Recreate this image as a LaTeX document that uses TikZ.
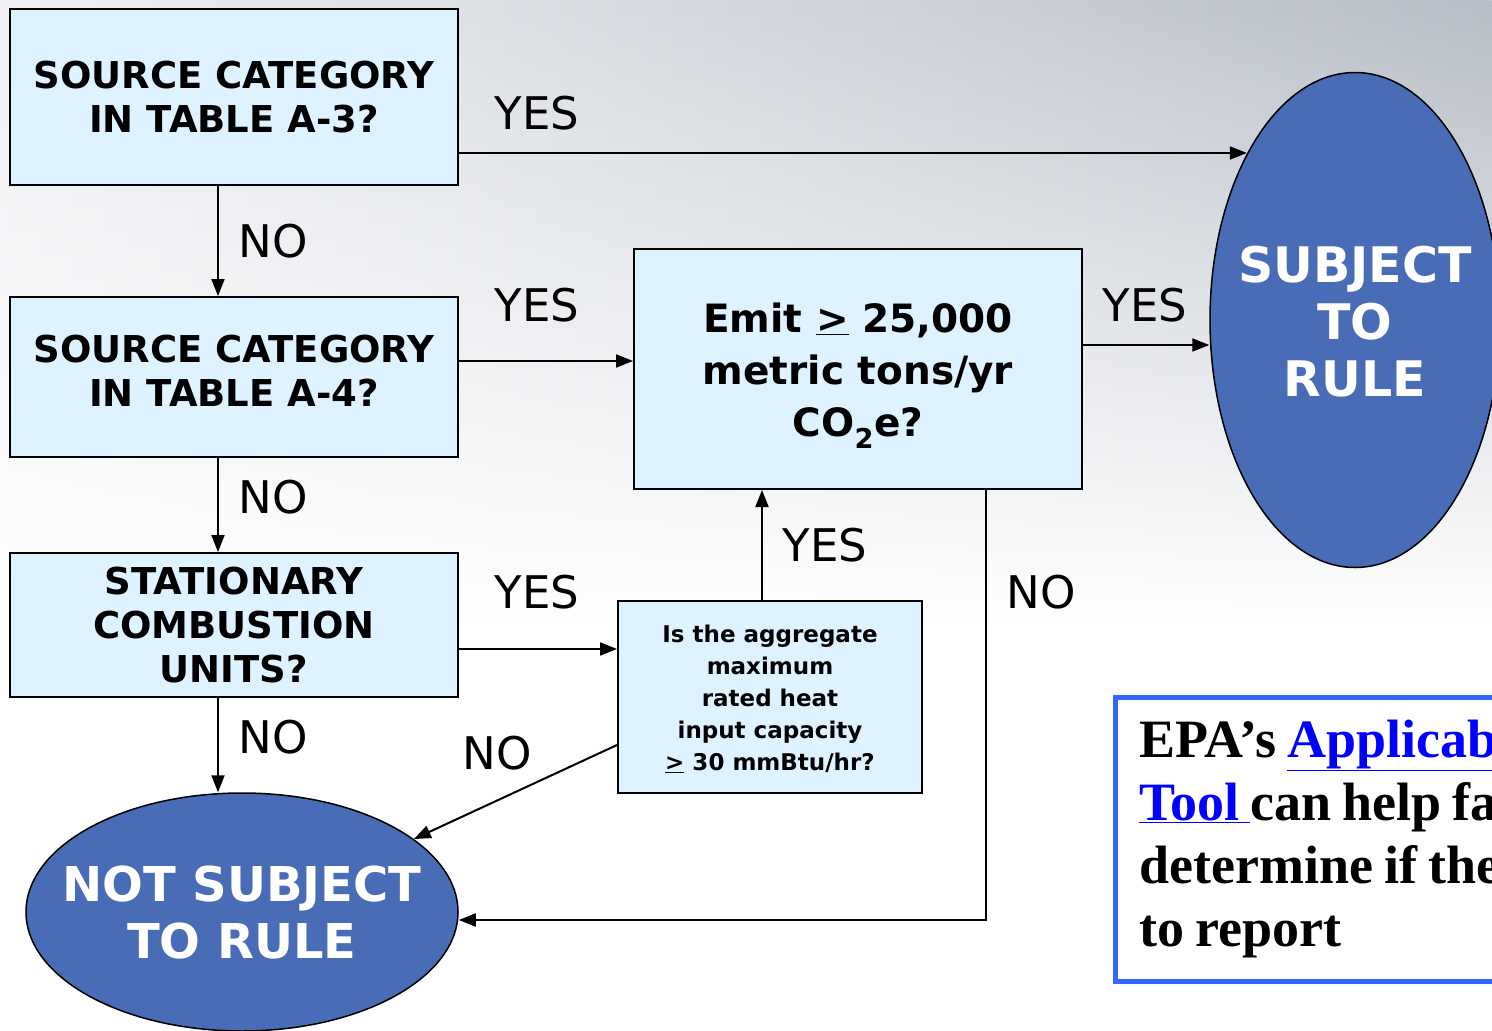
\documentclass[tikz,border=0pt]{standalone}
\usepackage{fontspec}
\setsansfont{DejaVu Sans}
\newfontfamily\tnr{Liberation Serif}
\usetikzlibrary{arrows.meta,fadings,shapes.geometric}

\definecolor{boxblue}{RGB}{223,242,255}
\definecolor{ovalblue}{RGB}{72,108,181}
\definecolor{frameblue}{RGB}{51,102,255}
\definecolor{linkblue}{RGB}{0,0,255}
\definecolor{bggray}{RGB}{184,190,199}
\definecolor{bglight}{RGB}{238,240,243}

\begin{document}
\begin{tikzpicture}[x=1pt,y=-1pt,
	qbox/.style={draw,line width=2pt,fill=boxblue,inner sep=0pt},
	qtext/.style 2 args={align=center,inner sep=0pt,font=\sffamily\bfseries\fontsize{#1}{#2}\selectfont},
	oval/.style={ellipse,draw,line width=1.5pt,fill=ovalblue,inner sep=0pt},
	ovaltext/.style={text=white,qtext={49}{57}},
	arr/.style={line width=2pt,-{Triangle[length=17pt,width=13pt]}},
	lbl/.style={inner sep=0pt,font=\sffamily\fontsize{45}{45}\selectfont}]
		
		%background
		\clip (0,0) rectangle (1492,1031);
		\fill[white] (0,0) rectangle (1492,1031);
		\shade[left color=bglight,right color=bggray,path fading=south] (0,0) rectangle (1492,620);
		
		%questions
		\node[qbox,minimum width=448,minimum height=176,label={[qtext={37}{44}]center:SOURCE CATEGORY\\IN TABLE A-3?}] (a3) at (234,97) {};
		\node[qbox,minimum width=448,minimum height=160,label={[qtext={37}{44},yshift=6pt]center:SOURCE CATEGORY\\IN TABLE A-4?}] (a4) at (234,377) {};
		\node[qbox,minimum width=448,minimum height=144,label={[qtext={37}{44}]center:STATIONARY\\COMBUSTION\\UNITS?}] (sc) at (234,625) {};
		\node[qbox,minimum width=448,minimum height=240,label={[qtext={39}{52},yshift=-7pt]center:Emit \underline{>} 25,000\\metric tons/yr\\CO\textsubscript{2}e?}] (emit) at (858,369) {};
		\node[qbox,minimum width=304,minimum height=192,label={[qtext={23}{32},yshift=-2pt]center:Is the aggregate\\maximum\\rated heat\\input capacity\\\underline{>} 30 mmBtu/hr?}] (agg) at (770,697) {};
		
		%outcomes
		\node[oval,minimum width=290,minimum height=495,label={[ovaltext,yshift=-2pt]center:SUBJECT\\TO\\RULE}] (sub) at (1355,320) {};
		\node[oval,minimum width=432,minimum height=238,label={[ovaltext,qtext={48}{57},yshift=-1pt]center:NOT SUBJECT\\TO RULE}] (notsub) at (242,912) {};
		
		%yes
		\draw[arr] ([yshift=-56pt]a3.east) -- ([yshift=-56pt]a3.east -| sub.123);
		\draw[arr] ([yshift=16pt]a4.east) -- ([yshift=16pt]a4.east -| emit.west);
		\draw[arr] ([yshift=-24pt]sc.east) -- ([yshift=-24pt]sc.east -| agg.west);
		\draw[arr] ([xshift=-8pt]agg.north) -- ([xshift=-8pt]agg.north |- emit.south);
		\draw[arr] ([yshift=24pt]emit.east) -- ([yshift=24pt]emit.east -| sub.west);
		
		%no
		\draw[arr] ([xshift=-16pt]a3.south) -- ([xshift=-16pt]a4.north);
		\draw[arr] ([xshift=-16pt]a4.south) -- ([xshift=-16pt]sc.north);
		\draw[arr] ([xshift=-16pt]sc.south) -- ([xshift=-16pt]sc.south |- notsub.north);
		\draw[arr] ([yshift=-48pt]agg.west) -- (notsub.23);
		\draw[arr] ([xshift=128pt]emit.south) |- ([yshift=-8pt]notsub.east);
		
		%labels
		\node[lbl] (yes1) at (537,113) {YES};
		\node[lbl] (yes2) at (537,305) {YES};
		\node[lbl] (yes3) at (537,592) {YES};
		\node[lbl] (yes4) at (825,545) {YES};
		\node[lbl] (yes5) at (1145,305) {YES};
		\node[lbl] (no1) at (273,241) {NO};
		\node[lbl] (no2) at (273,497) {NO};
		\node[lbl] (no3) at (273,737) {NO};
		\node[lbl] (no4) at (497,753) {NO};
		\node[lbl] (no5) at (1041,592) {NO};
		
		%tool note
		\node[draw=frameblue,line width=4.5pt,fill=white,anchor=north west,minimum width=508,minimum height=284,
			inner xsep=22pt,text width=460pt,align=left,font=\tnr\bfseries\fontsize{54}{63}\selectfont] (epa) at (1113,695)
			{\spaceskip=11pt\relax EPA’s \textcolor{linkblue}{\underline{Applicab}}\\\textcolor{linkblue}{\underline{Tool\ }}can help fa\\determine if the\\to report};
		
\end{tikzpicture}
\end{document}
